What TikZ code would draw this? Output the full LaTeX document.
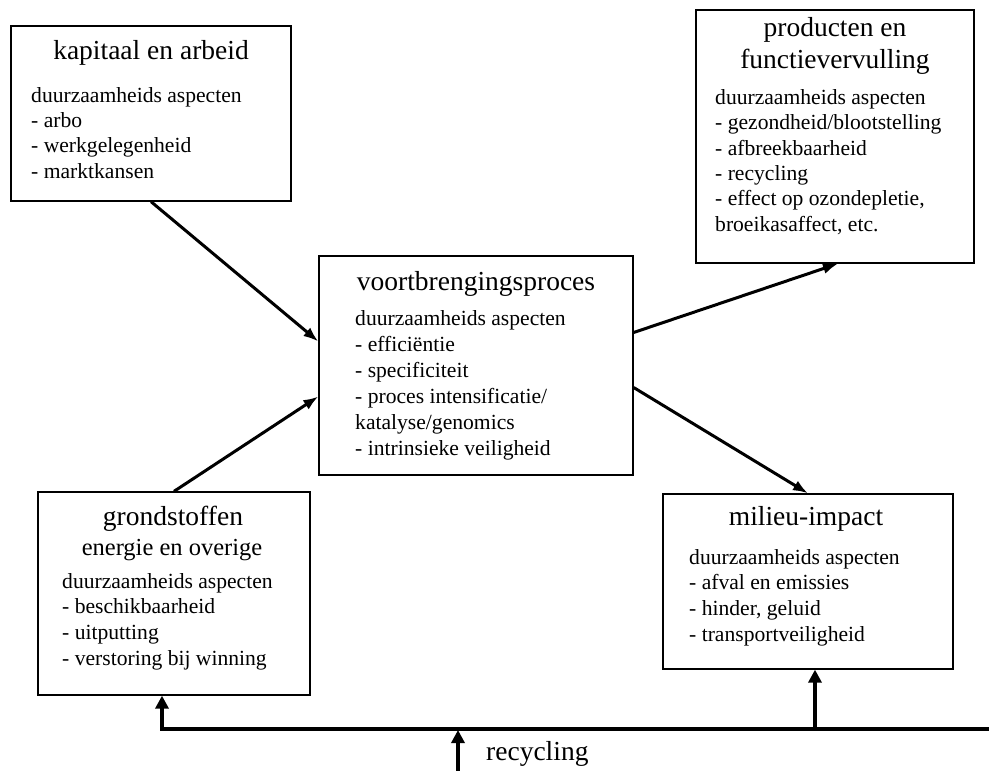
\documentclass[tikz,border=0pt]{standalone}
\usepackage{fontspec}
\setmainfont{Liberation Serif}
\usetikzlibrary{arrows.meta}

\tikzset{
  box/.style={draw, line width=1.3pt, inner sep=0pt},
  titletext/.style={font=\fontsize{27.5}{31}\selectfont, inner sep=0pt, anchor=mid},
  subtext/.style={font=\fontsize{24.5}{28}\selectfont, inner sep=0pt, anchor=mid},
  bodytext/.style={font=\fontsize{21.6}{25}\selectfont, inner sep=0pt, anchor=mid west},
  flow/.style={line width=3pt, -{Latex[length=15pt,width=11pt]}},
  recarrow/.style={line width=4.5pt, -{Triangle[length=13pt,width=13pt]}},
}

\begin{document}
\begin{tikzpicture}[x=1pt,y=-1pt]

\useasboundingbox (0,0) rectangle (989,771);

% Boxes
\node[box, minimum width=280, minimum height=175] (kap) at (151,113.5) {};
\node[box, minimum width=278, minimum height=253] (prod) at (835,136.5) {};
\node[box, minimum width=314, minimum height=219] (proc) at (476,365.5) {};
\node[box, minimum width=272, minimum height=203] (grond) at (174,593.5) {};
\node[box, minimum width=290, minimum height=175] (mil) at (808,581.5) {};

% Titles
\node[titletext] (kap-title) at (151,57) {kapitaal en arbeid};
\node[titletext] (prod-title1) at (835,34) {producten en};
\node[titletext] (prod-title2) at (835,66) {functievervulling};
\node[titletext] (proc-title) at (476,288) {voortbrengingsproces};
\node[titletext] (grond-title) at (173,523) {grondstoffen};
\node[subtext] (grond-sub) at (172,553) {energie en overige};
\node[titletext] (mil-title) at (806,523) {milieu-impact};

% Aspects per box
\foreach \txt [count=\i from 0] in {duurzaamheids aspecten, - arbo, - werkgelegenheid, - marktkansen}
  \node[bodytext] (kap-\i) at (31,{100+25.3*\i}) {\txt};
\foreach \txt [count=\i from 0] in {duurzaamheids aspecten, - gezondheid/blootstelling, - afbreekbaarheid, - recycling, {- effect op ozondepletie,}, {broeikasaffect, etc.}}
  \node[bodytext] (prod-\i) at (715,{102+25.4*\i}) {\txt};
\foreach \txt [count=\i from 0] in {duurzaamheids aspecten, - efficiëntie, - specificiteit, - proces intensificatie/, katalyse/genomics, - intrinsieke veiligheid}
  \node[bodytext] (proc-\i) at (355,{323+26*\i}) {\txt};
\foreach \txt [count=\i from 0] in {duurzaamheids aspecten, - beschikbaarheid, - uitputting, - verstoring bij winning}
  \node[bodytext] (grond-\i) at (62,{586+25.7*\i}) {\txt};
\foreach \txt [count=\i from 0] in {duurzaamheids aspecten, - afval en emissies, {- hinder, geluid}, - transportveiligheid}
  \node[bodytext] (mil-\i) at (689,{562+25.7*\i}) {\txt};

% Flows into and out of the process
\draw[flow] (kap.south) -- ([yshift=24pt]proc.west);
\draw[flow] (grond.north) -- ([yshift=-31pt]proc.west);
\draw[flow] ([yshift=33pt]proc.east) -- ([xshift=3pt]prod.south);
\draw[flow] ([yshift=-22pt]proc.east) -- (mil.north);

% Recycling loop
\coordinate (recL) at (162,729);
\coordinate (recR) at (989,729);
\coordinate (recM) at (815,729);
\coordinate (recIn) at (458,771);
\draw[recarrow] (recR) -- (recL) -- (recL |- grond.south);
\draw[recarrow] (recM) -- (recM |- mil.south);
\draw[recarrow, shorten >=1pt] (recIn) -- (recIn |- recL);
\node[titletext, anchor=mid west] (rec-label) at (486,758) {recycling};

\end{tikzpicture}
\end{document}
